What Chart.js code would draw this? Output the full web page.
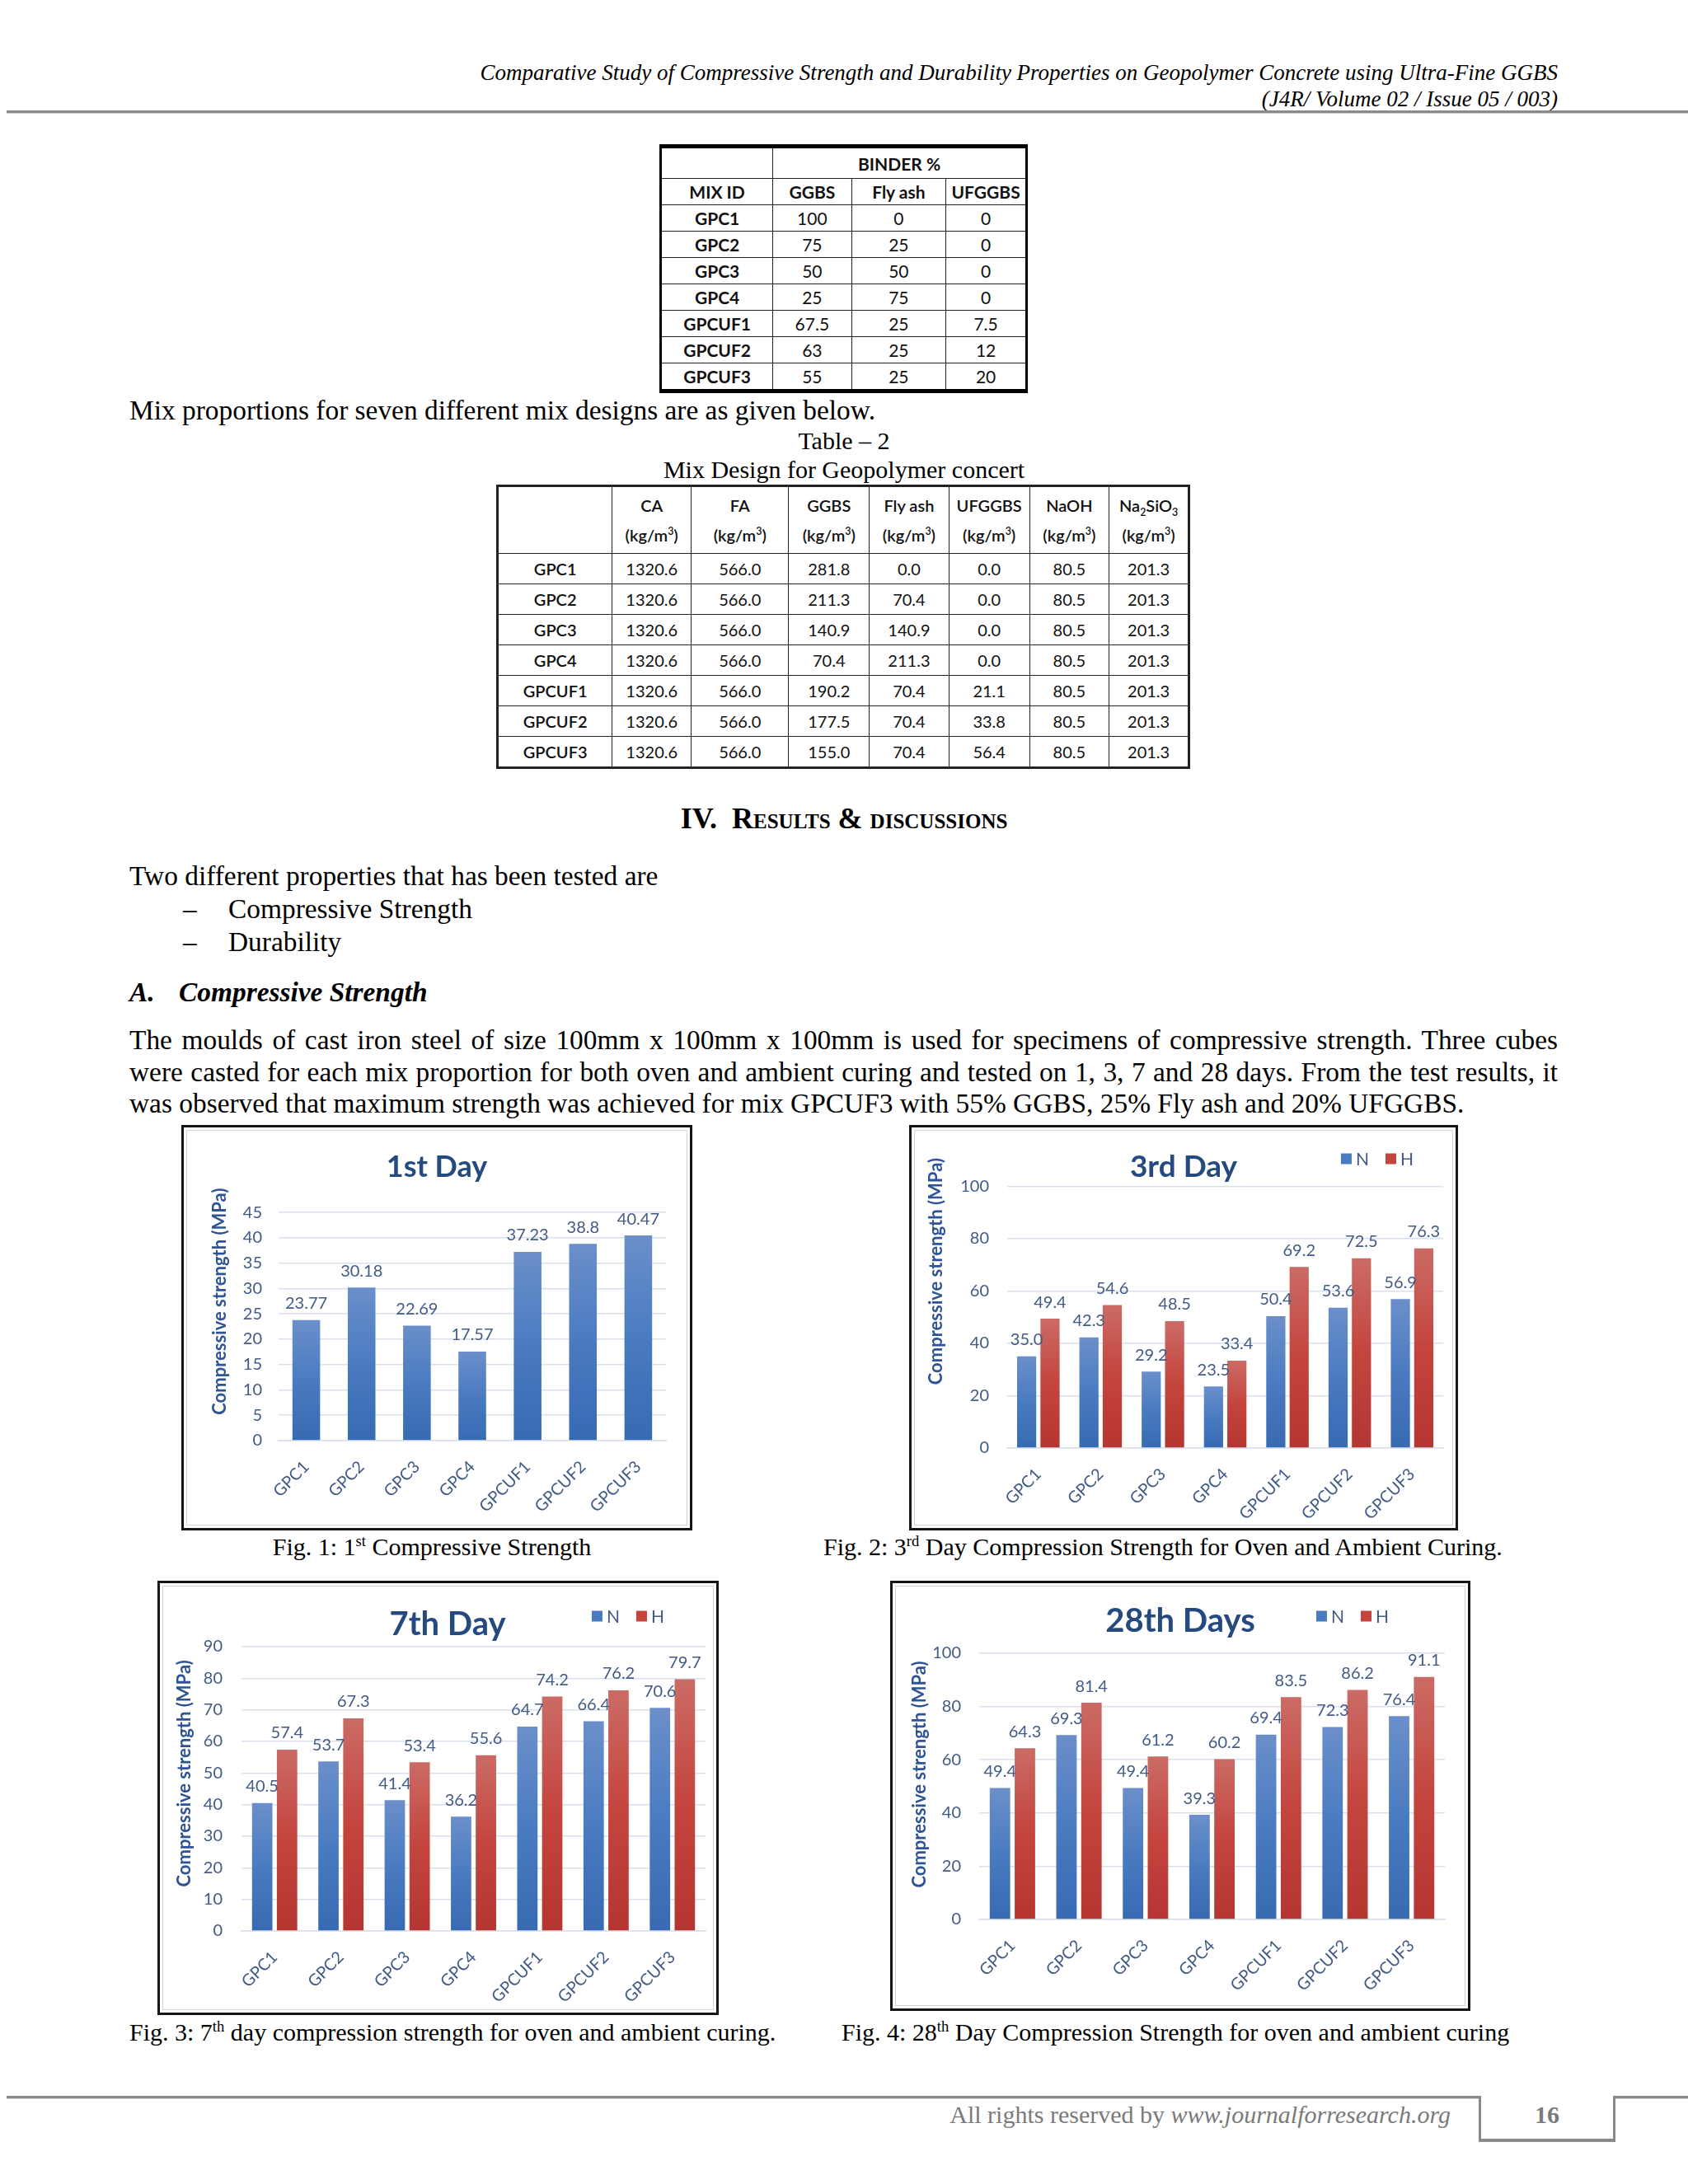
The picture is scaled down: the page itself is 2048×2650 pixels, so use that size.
<!doctype html>
<html lang="en">
<head>
<meta charset="utf-8">
<title>Compressive Strength of Geopolymer Concrete</title>
<script src="https://cdn.jsdelivr.net/npm/chart.js"></script>
<style>
  html, body { margin: 0; padding: 0; background: #fff; }
  #page { position: relative; width: 2048px; height: 2650px; overflow: hidden;
          font-family: "Liberation Serif", "Times New Roman", serif; color: #000; }
  .abs { position: absolute; }
  .hdr { right: 158px; top: 72px; text-align: right; font-style: italic; font-size: 27px; line-height: 32px; }
  .rule { left: 8px; width: 2040px; height: 3px; background: #8a8a8a; border-bottom: 1px solid #cfcfcf; }
  .txt { font-size: 30px; line-height: 38px; white-space: nowrap; }
  .big { font-size: 33.4px; }
  .para { left: 157px; width: 1733px; top: 1243px; font-size: 33.4px; line-height: 38.5px; text-align: justify; text-align-last: left; }
  table { border-collapse: collapse; font-family: Lato, "Open Sans", sans-serif; color: #111; }
  td { text-align: center; padding: 0; border: 1.5px solid #222; }
  #t1 { left: 800px; top: 175px; width: 447px; font-size: 21px; border: 3px solid #000; border-top: 5px solid #000; border-bottom: 5px solid #000; }
  #t1 td { height: 31px; }
  #t1 .b { font-weight: bold; }
  #t2 { left: 602px; top: 588px; width: 842px; font-size: 20px; border: 3px solid #222; }
  #t2 td { height: 36px; }
  #t2 .hd td { height: 80px; line-height: 36px; font-weight: 600; }
  #t2 .id { font-weight: 600; }
  sub, sup { font-size: 62%; line-height: 0; }
  .fig { position: absolute; box-sizing: border-box; border: 3px solid #151515; background: #fff; }
  .fig::after { content: ""; position: absolute; left: 3px; top: 3px; right: 3px; bottom: 3px;
                border: 1.5px solid #cdd5e3; pointer-events: none; }
  .fig canvas { position: absolute; left: 0; top: 0; }
  .cap { font-size: 30px; line-height: 36px; white-space: nowrap; }
  .foot { color: #7a7a7a; font-size: 30px; white-space: nowrap; }
</style>
</head>
<body>
<div id="page">

  <div class="abs hdr">Comparative Study of Compressive Strength and Durability Properties on Geopolymer Concrete using Ultra-Fine GGBS<br>(J4R/ Volume 02 / Issue 05 / 003)</div>
  <div class="abs rule" style="top:134px"></div>

  <table id="t1" class="abs">
    <colgroup><col style="width:137px"><col style="width:96px"><col style="width:116px"><col style="width:98px"></colgroup>
    <tr><td style="height:36px"></td><td colspan="3" class="b">BINDER %</td></tr>
    <tr class="b"><td>MIX ID</td><td>GGBS</td><td>Fly ash</td><td>UFGGBS</td></tr>
    <tr><td class="b">GPC1</td><td>100</td><td>0</td><td>0</td></tr>
    <tr><td class="b">GPC2</td><td>75</td><td>25</td><td>0</td></tr>
    <tr><td class="b">GPC3</td><td>50</td><td>50</td><td>0</td></tr>
    <tr><td class="b">GPC4</td><td>25</td><td>75</td><td>0</td></tr>
    <tr><td class="b">GPCUF1</td><td>67.5</td><td>25</td><td>7.5</td></tr>
    <tr><td class="b">GPCUF2</td><td>63</td><td>25</td><td>12</td></tr>
    <tr><td class="b">GPCUF3</td><td>55</td><td>25</td><td>20</td></tr>
  </table>

  <div class="abs txt big" style="left:157px; top:479px">Mix proportions for seven different mix designs are as given below.</div>
  <div class="abs txt" style="left:0; width:2048px; text-align:center; top:516px">Table – 2</div>
  <div class="abs txt" style="left:0; width:2048px; text-align:center; top:551px">Mix Design for Geopolymer concert</div>

  <table id="t2" class="abs">
    <colgroup><col style="width:140px"><col style="width:96px"><col style="width:119px"><col style="width:98px"><col style="width:97px"><col style="width:98px"><col style="width:97px"><col style="width:97px"></colgroup>
    <tr class="hd"><td></td><td>CA<br>(kg/m<sup>3</sup>)</td><td>FA<br>(kg/m<sup>3</sup>)</td><td>GGBS<br>(kg/m<sup>3</sup>)</td><td>Fly ash<br>(kg/m<sup>3</sup>)</td><td>UFGGBS<br>(kg/m<sup>3</sup>)</td><td>NaOH<br>(kg/m<sup>3</sup>)</td><td>Na<sub>2</sub>SiO<sub>3</sub><br>(kg/m<sup>3</sup>)</td></tr>
    <tr><td class="id">GPC1</td><td>1320.6</td><td>566.0</td><td>281.8</td><td>0.0</td><td>0.0</td><td>80.5</td><td>201.3</td></tr>
    <tr><td class="id">GPC2</td><td>1320.6</td><td>566.0</td><td>211.3</td><td>70.4</td><td>0.0</td><td>80.5</td><td>201.3</td></tr>
    <tr><td class="id">GPC3</td><td>1320.6</td><td>566.0</td><td>140.9</td><td>140.9</td><td>0.0</td><td>80.5</td><td>201.3</td></tr>
    <tr><td class="id">GPC4</td><td>1320.6</td><td>566.0</td><td>70.4</td><td>211.3</td><td>0.0</td><td>80.5</td><td>201.3</td></tr>
    <tr><td class="id">GPCUF1</td><td>1320.6</td><td>566.0</td><td>190.2</td><td>70.4</td><td>21.1</td><td>80.5</td><td>201.3</td></tr>
    <tr><td class="id">GPCUF2</td><td>1320.6</td><td>566.0</td><td>177.5</td><td>70.4</td><td>33.8</td><td>80.5</td><td>201.3</td></tr>
    <tr><td class="id">GPCUF3</td><td>1320.6</td><td>566.0</td><td>155.0</td><td>70.4</td><td>56.4</td><td>80.5</td><td>201.3</td></tr>
  </table>

  <div class="abs txt" style="left:0; width:2048px; text-align:center; top:974px; font-size:36px; font-weight:bold; font-variant:small-caps">IV.&nbsp; Results &amp; discussions</div>
  <div class="abs txt big" style="left:157px; top:1044px">Two different properties that has been tested are</div>
  <div class="abs txt big" style="left:222px; top:1084px">–</div>
  <div class="abs txt big" style="left:277px; top:1084px">Compressive Strength</div>
  <div class="abs txt big" style="left:222px; top:1124px">–</div>
  <div class="abs txt big" style="left:277px; top:1124px">Durability</div>
  <div class="abs txt big" style="left:157px; top:1185px; font-weight:bold; font-style:italic">A.</div>
  <div class="abs txt big" style="left:217px; top:1185px; font-weight:bold; font-style:italic">Compressive Strength</div>
  <div class="abs para">The moulds of cast iron steel of size 100mm x 100mm x 100mm is used for specimens of compressive strength. Three cubes were casted for each mix proportion for both oven and ambient curing and tested on 1, 3, 7 and 28 days. From the test results, it was observed that maximum strength was achieved for mix GPCUF3 with 55% GGBS, 25% Fly ash and 20% UFGGBS.</div>

  <div class="fig" style="left:220px; top:1365px; width:620px; height:492px"><canvas id="c1"></canvas></div>
  <div class="fig" style="left:1103px; top:1365px; width:666px; height:492px"><canvas id="c2"></canvas></div>
  <div class="fig" style="left:191px; top:1918px; width:681px; height:527px"><canvas id="c3"></canvas></div>
  <div class="fig" style="left:1080px; top:1918px; width:704px; height:522px"><canvas id="c4"></canvas></div>

  <div class="abs cap" style="left:0; width:1048px; text-align:center; top:1859px">Fig. 1: 1<sup>st</sup> Compressive Strength</div>
  <div class="abs cap" style="left:999px; top:1859px">Fig. 2: 3<sup>rd</sup> Day Compression Strength for Oven and Ambient Curing.</div>
  <div class="abs cap" style="left:157px; top:2448px">Fig. 3: 7<sup>th</sup> day compression strength for oven and ambient curing.</div>
  <div class="abs cap" style="left:1021px; top:2448px">Fig. 4: 28<sup>th</sup> Day Compression Strength for oven and ambient curing</div>

  <div class="abs rule" style="top:2543px; width:1787px"></div>
  <div class="abs rule" style="top:2543px; left:1958px; width:90px"></div>
  <div class="abs" style="left:1794px; top:2543px; width:166px; height:56px; box-sizing:border-box; border-left:3px solid #8a8a8a; border-right:3px solid #8a8a8a; border-bottom:4px solid #8a8a8a"></div>
  <div class="abs foot" style="right:288px; top:2549px">All rights reserved by <i>www.journalforresearch.org</i></div>
  <div class="abs foot" style="left:1794px; width:166px; text-align:center; top:2549px; font-weight:bold">16</div>
</div>

<script>
// data
const mixIds = ['GPC1', 'GPC2', 'GPC3', 'GPC4', 'GPCUF1', 'GPCUF2', 'GPCUF3'];
const day1 = [23.77, 30.18, 22.69, 17.57, 37.23, 38.8, 40.47];
const day3N = [35.0, 42.3, 29.2, 23.5, 50.4, 53.6, 56.9];
const day3H = [49.4, 54.6, 48.5, 33.4, 69.2, 72.5, 76.3];
const day7N = [40.5, 53.7, 41.4, 36.2, 64.7, 66.4, 70.6];
const day7H = [57.4, 67.3, 53.4, 55.6, 74.2, 76.2, 79.7];
const day28N = [49.4, 69.3, 49.4, 39.3, 69.4, 72.3, 76.4];
const day28H = [64.3, 81.4, 61.2, 60.2, 83.5, 86.2, 91.1];

const FONT = 'Lato, "Open Sans", sans-serif';
const SLATE = '#425b86';
const GRID = '#d9e0ec';
const BLUE = ['#6b8fca', '#4a7bc1', '#386ab2'];
const RED = ['#cb6b65', '#c4443e', '#b53631'];

// each bar gets its own top-to-base gradient, like the office-style fill
function barFill(stops) {
  return function (ctx) {
    const chart = ctx.chart;
    if (!chart.chartArea || ctx.type !== 'data') return stops[1];
    const y = chart.scales.y;
    const top = y.getPixelForValue(ctx.parsed.y);
    const base = y.getPixelForValue(0);
    if (!isFinite(top) || base - top < 1) return stops[1];
    const g = chart.ctx.createLinearGradient(0, top, 0, base);
    g.addColorStop(0, stops[0]);
    g.addColorStop(0.5, stops[1]);
    g.addColorStop(1, stops[2]);
    return g;
  };
}

const valueLabels = {
  id: 'valueLabels',
  afterDatasetsDraw(chart, args, opts) {
    const ctx = chart.ctx;
    ctx.save();
    ctx.font = '20px ' + FONT;
    ctx.fillStyle = SLATE;
    ctx.textAlign = 'center';
    ctx.textBaseline = 'bottom';
    chart.data.datasets.forEach((ds, i) => {
      chart.getDatasetMeta(i).data.forEach((bar, j) => {
        const v = ds.data[j];
        const s = opts.decimals == null ? String(v) : v.toFixed(opts.decimals);
        ctx.fillText(s, bar.x, bar.y - 10);
      });
    });
    ctx.restore();
  }
};

const sideTitle = {
  id: 'sideTitle',
  afterDraw(chart, args, opts) {
    const a = chart.chartArea;
    const ctx = chart.ctx;
    ctx.save();
    ctx.translate(a.left - opts.dx, a.top + opts.at * (a.bottom - a.top));
    ctx.rotate(-Math.PI / 2);
    ctx.font = 'bold 22px ' + FONT;
    ctx.fillStyle = '#2f5496';
    ctx.textAlign = 'center';
    ctx.textBaseline = 'middle';
    ctx.fillText(opts.text, 0, 0);
    ctx.restore();
  }
};

const cornerKey = {
  id: 'cornerKey',
  afterDraw(chart, args, opts) {
    const sets = chart.data.datasets;
    if (!opts.show || sets.length < 2) return;
    const ctx = chart.ctx;
    ctx.save();
    ctx.font = '21px ' + FONT;
    const box = 13, gap = 5, between = 20;
    const widths = sets.map(d => box + gap + ctx.measureText(d.label).width);
    const total = widths.reduce((s, w) => s + w, 0) + between * (sets.length - 1);
    let x = chart.chartArea.right - opts.dx - total;
    sets.forEach((d, i) => {
      ctx.fillStyle = d.swatch;
      ctx.fillRect(x, opts.y - box / 2, box, box);
      ctx.fillStyle = SLATE;
      ctx.textAlign = 'left';
      ctx.textBaseline = 'middle';
      ctx.fillText(d.label, x + box + gap, opts.y + 1);
      x += widths[i] + between;
    });
    ctx.restore();
  }
};

function makeChart(id, cfg) {
  const grouped = cfg.datasets.length > 1;
  new Chart(document.getElementById(id), {
    type: 'bar',
    data: {
      labels: mixIds,
      datasets: cfg.datasets.map(d => ({
        label: d.label,
        data: d.data,
        swatch: d.stops[1],
        backgroundColor: barFill(d.stops),
        borderWidth: 0,
        barPercentage: grouped ? 0.82 : 1,
        categoryPercentage: grouped ? 0.75 : 0.5
      }))
    },
    plugins: [valueLabels, sideTitle, cornerKey],
    options: {
      responsive: true,
      maintainAspectRatio: false,
      animation: false,
      layout: { padding: { left: cfg.left, right: cfg.right, top: 0, bottom: 0 } },
      plugins: {
        legend: { display: false },
        tooltip: { enabled: false },
        title: {
          display: true,
          text: cfg.title,
          color: '#244a80',
          font: { family: FONT, size: cfg.titleSize, weight: 'bold', lineHeight: 1.2 },
          padding: { top: cfg.titleTop, bottom: cfg.titleBottom }
        },
        valueLabels: { decimals: grouped ? 1 : null },
        sideTitle: { text: 'Compressive strength (MPa)', dx: cfg.yTitleDx, at: cfg.yTitleAt },
        cornerKey: { show: grouped, y: cfg.keyY, dx: cfg.keyDx }
      },
      scales: {
        x: {
          grid: { display: false },
          border: { color: GRID, width: 1.5 },
          ticks: { color: SLATE, font: { family: FONT, size: 20 }, minRotation: 45, maxRotation: 45, autoSkip: false, padding: 12 },
          afterFit(scale) { scale.height = cfg.xHeight; }
        },
        y: {
          min: 0,
          max: cfg.max,
          grid: { color: GRID, lineWidth: 1.5, drawTicks: false },
          border: { display: false },
          ticks: { stepSize: cfg.step, color: SLATE, font: { family: FONT, size: 20 }, padding: cfg.tickPad },
          afterFit(scale) { scale.width = cfg.yWidth; }
        }
      }
    }
  });
}

// the title block spans the canvas less left/right padding, so padding is balanced
makeChart('c1', {
  title: '1st Day', titleSize: 36, max: 45, step: 5,
  datasets: [{ label: 'Strength', data: day1, stops: BLUE }],
  left: 29, right: 29, yWidth: 86, xHeight: 106, titleTop: 27, titleBottom: 33,
  tickPad: 20, yTitleDx: 71, yTitleAt: 0.39, keyY: 0, keyDx: 0
});
makeChart('c2', {
  title: '3rd Day', titleSize: 37, max: 100, step: 20,
  datasets: [{ label: 'N', data: day3N, stops: BLUE }, { label: 'H', data: day3H, stops: RED }],
  left: 15, right: 15, yWidth: 101, xHeight: 97, titleTop: 26, titleBottom: 1,
  tickPad: 22, yTitleDx: 86, yTitleAt: 0.325, keyY: 38, keyDx: 36
});
makeChart('c3', {
  title: '7th Day', titleSize: 40, max: 90, step: 10,
  datasets: [{ label: 'N', data: day7N, stops: BLUE }, { label: 'H', data: day7H, stops: RED }],
  left: 36, right: 13, yWidth: 63, xHeight: 99, titleTop: 26, titleBottom: 3,
  tickPad: 23, yTitleDx: 69, yTitleAt: 0.446, keyY: 40, keyDx: 50
});
makeChart('c4', {
  title: '28th Days', titleSize: 40, max: 100, step: 20,
  datasets: [{ label: 'N', data: day28N, stops: BLUE }, { label: 'H', data: day28H, stops: RED }],
  left: 28, right: 28, yWidth: 77, xHeight: 108, titleTop: 22, titleBottom: 15,
  tickPad: 22, yTitleDx: 72, yTitleAt: 0.455, keyY: 40, keyDx: 68
});
</script>
</body>
</html>
